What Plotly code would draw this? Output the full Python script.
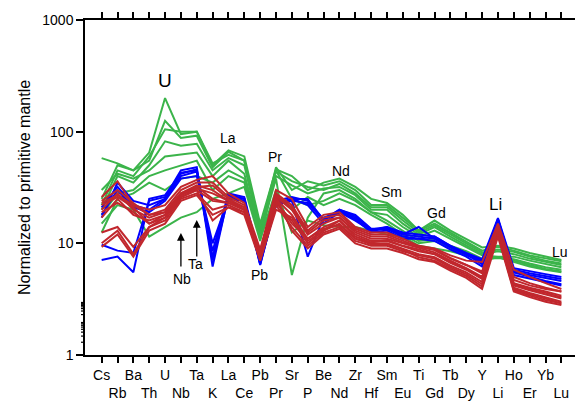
import math
import plotly.graph_objects as go

# Elements on the spider diagram, in plotting order
elements = ["Cs", "Rb", "Ba", "Th", "U", "Nb", "Ta", "K", "La", "Ce",
            "Pb", "Pr", "Sr", "P", "Be", "Nd", "Zr", "Hf", "Sm", "Eu",
            "Ti", "Gd", "Tb", "Dy", "Y", "Li", "Ho", "Er", "Yb", "Lu"]

# Primitive-mantle normalised concentrations, one list per sample
green_samples = [
    [25, 50, 45, 65, 200, 95, 100, 50, 68, 60, 15, 46, 40, 30, 35, 38, 32, 25, 23, 18, 13, 16, 13, 11, 9.2, 9.5, 9.0, 8.2, 7.6, 7.1],
    [58, 52, 45, 55, 125, 88, 92, 48, 66, 55, 13, 48, 30, 36, 33, 36, 30, 22, 22, 17, 13, 15, 12.5, 10.5, 8.6, 9.3, 8.6, 7.8, 7.3, 6.9],
    [22, 45, 40, 60, 105, 100, 100, 52, 62, 55, 14, 44, 36, 32, 30, 34, 28, 21, 21, 16, 12.5, 14.5, 12, 10, 8.3, 8.8, 8.4, 7.6, 7.0, 6.6],
    [20, 40, 35, 50, 82, 75, 78, 45, 58, 50, 12.5, 40, 33, 28, 31, 32, 27, 20, 20, 15, 12, 14, 11.5, 9.6, 8.0, 8.5, 8.0, 7.3, 6.8, 6.4],
    [30, 42, 38, 45, 60, 62, 65, 40, 55, 42, 12, 38, 5.2, 17, 28, 30, 25, 19, 18, 14, 11.5, 13, 11, 9.3, 7.8, 7.6, 7.6, 7.0, 6.5, 6.1],
    [18, 28, 30, 40, 45, 50, 55, 30, 40, 35, 11, 30, 12.5, 16, 14.5, 14, 14, 13, 12, 11.5, 9.5, 9.0, 8.5, 7.8, 7.2, 7.5, 7.0, 6.4, 5.9, 5.6],
    [15, 22, 20, 11.5, 14, 17, 19, 25, 28, 32, 10.5, 45, 25, 22, 24, 28, 24, 19, 16, 13, 10.5, 11, 9.5, 8.5, 7.3, 7.4, 7.2, 6.6, 6.1, 5.8],
    [12.5, 25, 28, 35, 30, 38, 40, 35, 45, 38, 11, 28, 20, 26, 22, 25, 22, 18, 15, 12, 10, 10.5, 9.0, 8.0, 7.0, 7.5, 6.8, 6.2, 5.8, 5.5],
]

blue_samples = [
    [9.7, 8.6, 8.2, 24, 26, 45, 48, 6.2, 27, 25, 6.4, 23, 25, 25, 16, 20, 17.5, 13.3, 14, 12, 14, 11, 9.2, 7.9, 6.8, 16.3, 5.6, 5.2, 4.9, 4.6],
    [7.1, 7.6, 5.5, 25, 27, 42, 46, 7.0, 26, 24, 6.8, 22, 24, 7.6, 17, 19, 16, 13, 13.5, 11.5, 11, 11.5, 9.5, 8.2, 7.0, 16, 5.8, 5.4, 5.1, 4.8],
    [21, 32, 22, 20, 25, 40, 44, 8.5, 28, 26, 7.0, 24, 26, 24, 16.5, 20, 18, 13.5, 13.5, 12, 11.5, 11, 9.3, 8.0, 6.5, 16.5, 5.5, 5.0, 4.6, 4.3],
    [18, 30, 21, 19, 24, 38, 40, 10, 25, 24, 6.5, 22, 25, 22, 15, 19, 16.5, 12.5, 13, 11, 11, 10.5, 8.8, 7.6, 6.2, 15.5, 5.2, 4.8, 4.5, 4.2],
    [17, 35, 24, 22, 25, 43, 45, 7.5, 27, 25, 6.6, 23, 24, 23, 16, 19.5, 17, 13, 14, 12.5, 12, 11.5, 9.5, 8.2, 7.2, 16.8, 6.0, 5.6, 5.3, 5.0],
]

red_samples = [
    [26, 36, 22, 20, 22, 32, 37, 40, 28, 23, 8.8, 30, 25, 14, 18, 19, 14, 12.5, 12.5, 11, 9.5, 9.0, 7.8, 7.0, 6.8, 15, 5.8, 5.0, 4.4, 3.9],
    [24, 30, 23, 18, 20, 30, 35, 35, 26, 22, 8.5, 28, 22, 13, 17, 18, 13.5, 12, 12, 10.5, 9.3, 8.7, 7.3, 6.4, 5.6, 14.5, 5.0, 4.4, 4.0, 3.7],
    [20, 28, 20, 17, 19, 28, 33, 30, 24, 21, 8.0, 26, 20, 12, 15, 17, 12.5, 11, 11, 10, 9.0, 8.3, 7.0, 6.0, 5.0, 14, 4.4, 4.0, 3.7, 3.4],
    [17, 25, 18, 16, 18, 27, 32, 25, 23, 20, 7.8, 25, 18, 11, 14, 16, 12, 10.5, 10.5, 9.5, 8.5, 8.0, 6.7, 5.8, 4.8, 13.5, 4.2, 3.8, 3.5, 3.2],
    [12.5, 14, 9.3, 14, 16, 25, 28, 20, 22, 19, 7.5, 23, 16, 10, 13, 15, 11, 10, 10, 9.0, 8.0, 7.5, 6.3, 5.5, 4.5, 13, 4.0, 3.6, 3.3, 3.0],
    [10, 13, 8.0, 14, 17, 26, 30, 16, 21, 19, 7.2, 22, 14, 9.5, 12.5, 14, 10.5, 9.5, 9.5, 8.5, 7.8, 7.3, 6.1, 5.3, 4.3, 12.5, 3.9, 3.5, 3.2, 2.9],
    [22, 26, 21, 15, 17, 26, 30, 24, 23, 20, 8.2, 24, 15, 11, 13.5, 14.5, 11, 9.8, 9.8, 8.8, 7.5, 7.0, 5.9, 5.1, 4.1, 12, 3.8, 3.4, 3.1, 2.9],
    [19, 23, 19, 15, 18, 27, 31, 28, 24, 20, 7.6, 26, 13, 9.0, 12, 13.5, 10, 9.0, 9.0, 8.2, 7.2, 6.8, 5.7, 4.9, 3.9, 11.5, 3.7, 3.3, 3.0, 2.8],
    [9.3, 12, 7.6, 13, 15, 24, 27, 18, 21, 18, 7.0, 20, 17, 10.5, 13, 16, 11.5, 10.2, 10.7, 9.5, 8.8, 8.0, 6.8, 5.9, 4.9, 13.2, 4.3, 3.9, 3.6, 3.3],
    [23, 27, 22, 18, 19, 28, 32, 33, 25, 21, 8.4, 27, 21, 12.5, 16, 17, 13, 11.5, 11.5, 10.2, 9.4, 8.8, 7.4, 6.4, 5.4, 14, 4.7, 4.2, 3.9, 3.7],
]

GREEN = "#3bb44a"
BLUE = "#0000ff"
RED = "#c1272d"
FONT = "Arial, Liberation Sans, sans-serif"

x_idx = list(range(len(elements)))
fig = go.Figure()
for group, color in ((green_samples, GREEN), (blue_samples, BLUE), (red_samples, RED)):
    for vals in group:
        fig.add_trace(go.Scatter(x=x_idx, y=vals, mode="lines",
                                 line=dict(color=color, width=2),
                                 showlegend=False, hoverinfo="skip"))

# Staggered element labels: every second label sits on a lower row
tick_text = [e if i % 2 == 0 else "<br>" + e for i, e in enumerate(elements)]

fig.update_xaxes(
    range=[-1.05, 29.86], tickmode="array", tickvals=x_idx, ticktext=tick_text,
    tickangle=0, ticks="outside", ticklen=6, tickwidth=1.5, tickcolor="black",
    showline=True, linecolor="black", linewidth=1.5, mirror="ticks",
    showgrid=False, zeroline=False,
    tickfont=dict(family=FONT, size=14, color="black"),
)
fig.update_yaxes(
    type="log", range=[0, 3], tickvals=[1, 10, 100, 1000],
    ticktext=["1", "10", "100", "1000"],
    ticks="outside", ticklen=7, tickwidth=1.5, tickcolor="black",
    showline=True, linecolor="black", linewidth=1.5,
    showgrid=False, zeroline=False,
    tickfont=dict(family=FONT, size=14, color="black"),
    title=dict(text="Normalized to primitive mantle", standoff=8,
               font=dict(family=FONT, size=16, color="black")),
)

# Minor log ticks (2..9 in every decade) drawn on the left of the y axis
plot_w = 575 - 85
minor_len = 4 / plot_w
for decade in range(3):
    for m in range(2, 10):
        ly = decade + math.log10(m)
        fig.add_shape(type="line", xref="paper", yref="y",
                      x0=-minor_len, x1=0, y0=ly, y1=ly,
                      line=dict(color="black", width=1.2))

labels = [
    ("U", 4.0, 2.454, 19), ("La", 8.0, 1.943, 14), ("Pr", 10.95, 1.773, 14),
    ("Nd", 15.1, 1.648, 14), ("Sm", 18.3, 1.46, 14), ("Gd", 21.1, 1.27, 14),
    ("Li", 24.85, 1.352, 17), ("Lu", 28.9, 0.922, 14), ("Pb", 9.97, 0.716, 14),
    ("Ta", 5.95, 0.815, 14), ("Nb", 5.1, 0.68, 14),
]
for text, x, y, size in labels:
    fig.add_annotation(x=x, y=y, text=text, showarrow=False,
                       font=dict(family=FONT, size=size, color="black"))

# Arrows pointing at the Nb and Ta troughs
for x, head, tail in ((6, 1.209, 0.869), (5, 1.093, 0.779)):
    fig.add_annotation(x=x, y=head, ax=x, ay=tail, axref="x", ayref="y",
                       text="", showarrow=True, arrowhead=2, arrowsize=1.2,
                       arrowwidth=1.3, arrowcolor="black")

fig.update_layout(
    width=575, height=403,
    margin=dict(l=85, r=0, t=20, b=48),
    plot_bgcolor="white", paper_bgcolor="white",
    font=dict(family=FONT, color="black"),
)

fig.write_html("out.html")
